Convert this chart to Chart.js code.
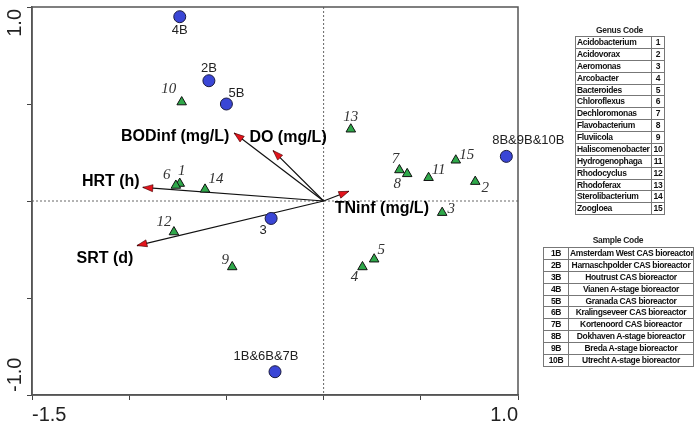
<!DOCTYPE html>
<html>
<head>
<meta charset="utf-8">
<script src="https://cdn.jsdelivr.net/npm/chart.js@4.4.1/dist/chart.umd.min.js"></script>
<style>
  body { margin: 0; background: #fff; }
  #wrap { position: relative; width: 697px; height: 426px; }
  #plot { position: absolute; left: 0; top: 0; }
  .ttl { position: absolute; font: bold 8.5px 'Liberation Sans', sans-serif; letter-spacing: -0.3px; color: #222; text-align: center; }
  table { position: absolute; border-collapse: collapse; table-layout: fixed; font: bold 8.5px 'Liberation Sans', sans-serif; letter-spacing: -0.35px; color: #111; }
  td { border: 1px solid #777; height: 10.87px; line-height: 10.87px; padding: 0 1px; white-space: nowrap; overflow: hidden; box-sizing: border-box; }
  #genus td:nth-child(2) { text-align: center; }
  #sample td { text-align: center; }
</style>
</head>
<body>
<div id="wrap">
  <canvas id="plot" width="697" height="426"></canvas>
  <div class="ttl" style="left:575px; top:25px; width:89px;">Genus Code</div>
  <table id="genus" style="left:575px; top:36px; width:89px;"><colgroup><col style="width:76px"><col style="width:13px"></colgroup><tbody></tbody></table>
  <div class="ttl" style="left:543px; top:235px; width:150px;">Sample Code</div>
  <table id="sample" style="left:543px; top:247px; width:150px;"><colgroup><col style="width:25px"><col style="width:125px"></colgroup><tbody></tbody></table>
</div>
<script>
// muestras (circulos azules)
const sampleLabels = ['4B', '2B', '5B', '3', '8B&9B&10B', '1B&6B&7B'];
const sampleX = [-0.74, -0.59, -0.50, -0.27, 0.94, -0.25];
const sampleY = [0.95, 0.62, 0.50, -0.09, 0.23, -0.88];

// generos (triangulos verdes), codigos 1..15
const genusLabels = ['1', '2', '3', '4', '5', '6', '7', '8', '9', '10', '11', '12', '13', '14', '15'];
const genusX = [-0.74, 0.78, 0.61, 0.20, 0.26, -0.76, 0.39, 0.43, -0.47, -0.73, 0.54, -0.77, 0.14, -0.61, 0.68];
const genusY = [0.09, 0.10, -0.06, -0.34, -0.30, 0.08, 0.16, 0.14, -0.34, 0.51, 0.12, -0.16, 0.37, 0.06, 0.21];

// variables ambientales (flechas)
const envLabels = ['HRT (h)', 'BODinf (mg/L)', 'DO (mg/L)', 'SRT (d)', 'TNinf (mg/L)'];
const envX = [-0.93, -0.46, -0.26, -0.96, 0.13];
const envY = [0.07, 0.35, 0.26, -0.23, 0.05];

// tablas
const genusNames = ['Acidobacterium', 'Acidovorax', 'Aeromonas', 'Arcobacter', 'Bacteroides', 'Chloroflexus',
  'Dechloromonas', 'Flavobacterium', 'Fluviicola', 'Haliscomenobacter', 'Hydrogenophaga', 'Rhodocyclus',
  'Rhodoferax', 'Sterolibacterium', 'Zoogloea'];
const sampleCodes = ['1B', '2B', '3B', '4B', '5B', '6B', '7B', '8B', '9B', '10B'];
const sampleNames = ['Amsterdam West CAS bioreactor', 'Harnaschpolder CAS bioreactor', 'Houtrust CAS bioreactor',
  'Vianen A-stage bioreactor', 'Granada CAS bioreactor', 'Kralingseveer CAS bioreactor', 'Kortenoord CAS bioreactor',
  'Dokhaven A-stage bioreactor', 'Breda A-stage bioreactor', 'Utrecht A-stage bioreactor'];

// ticks
const xTickLabels = ['-1.5', '1.0'];
const yTickLabels = ['-1.0', '1.0'];

// desplazamientos de etiquetas (px)
const sampleOffsets = [[0, 14], [0, -12], [10, -11], [-8, 12], [22, -16], [-9, -15]];
const genusOffsets = [[2, -12], [10, 6], [9, -4], [-8, 10], [7, -9], [-9, -10], [-4, -11], [-10, 10], [-7, -7],
  [-13, -13], [10, -8], [-10, -10], [0, -12], [11, -10], [11, -5]];
const envOffsets = [[-32, -6], [-59, 3], [15, -13], [-32, 13], [33, 17]];

// tablas html
document.querySelector('#genus tbody').innerHTML = genusNames
  .map((n, i) => `<tr><td>${n}</td><td>${genusLabels[i]}</td></tr>`).join('');
document.querySelector('#sample tbody').innerHTML = sampleNames
  .map((n, i) => `<tr><td>${sampleCodes[i]}</td><td>${n}</td></tr>`).join('');

const toPts = (xs, ys) => xs.map((v, i) => ({ x: v, y: ys[i] }));

const arrowSets = envX.map((v, i) => ({
  type: 'line',
  label: envLabels[i],
  data: [{ x: 0, y: 0 }, { x: v, y: envY[i] }],
  borderColor: '#111',
  borderWidth: 1.2,
  pointRadius: 0,
  order: 3
}));

const overlay = {
  id: 'overlay',
  beforeDatasetsDraw(chart) {
    const { ctx, chartArea: a, scales: { x, y } } = chart;
    const x0 = x.getPixelForValue(0), y0 = y.getPixelForValue(0);
    ctx.save();
    ctx.strokeStyle = '#666';
    ctx.lineWidth = 1;
    ctx.setLineDash([2, 2]);
    ctx.beginPath();
    ctx.moveTo(x0, a.top); ctx.lineTo(x0, a.bottom);
    ctx.moveTo(a.left, y0); ctx.lineTo(a.right, y0);
    ctx.stroke();
    ctx.setLineDash([]);
    ctx.strokeStyle = '#555';
    ctx.lineWidth = 1.5;
    ctx.strokeRect(a.left, a.top, a.right - a.left, a.bottom - a.top);
    ctx.restore();
  },
  afterDatasetsDraw(chart) {
    const { ctx, scales: { x, y } } = chart;
    const x0 = x.getPixelForValue(0), y0 = y.getPixelForValue(0);
    ctx.save();
    // puntas de flecha
    envX.forEach((v, i) => {
      const tx = x.getPixelForValue(v), ty = y.getPixelForValue(envY[i]);
      const ang = Math.atan2(ty - y0, tx - x0);
      ctx.save();
      ctx.translate(tx, ty);
      ctx.rotate(ang);
      ctx.beginPath();
      ctx.moveTo(0, 0);
      ctx.lineTo(-10, -3.5);
      ctx.lineTo(-10, 3.5);
      ctx.closePath();
      ctx.fillStyle = '#e3141c';
      ctx.fill();
      ctx.strokeStyle = '#400';
      ctx.lineWidth = 0.6;
      ctx.stroke();
      ctx.restore();
    });
    ctx.textAlign = 'center';
    ctx.textBaseline = 'middle';
    // etiquetas flechas
    ctx.font = 'bold 16px "Liberation Sans", Arial, sans-serif';
    ctx.fillStyle = '#000';
    envLabels.forEach((t, i) => {
      ctx.fillText(t, x.getPixelForValue(envX[i]) + envOffsets[i][0], y.getPixelForValue(envY[i]) + envOffsets[i][1]);
    });
    // etiquetas muestras
    ctx.font = '13px "Liberation Sans", Arial, sans-serif';
    ctx.fillStyle = '#222';
    sampleLabels.forEach((t, i) => {
      ctx.fillText(t, x.getPixelForValue(sampleX[i]) + sampleOffsets[i][0], y.getPixelForValue(sampleY[i]) + sampleOffsets[i][1]);
    });
    // etiquetas generos
    ctx.font = 'italic 15px "Liberation Serif", "Times New Roman", serif';
    ctx.fillStyle = '#333';
    genusLabels.forEach((t, i) => {
      ctx.fillText(t, x.getPixelForValue(genusX[i]) + genusOffsets[i][0], y.getPixelForValue(genusY[i]) + genusOffsets[i][1]);
    });
    ctx.restore();
  },
  afterDraw(chart) {
    const { ctx, chartArea: a } = chart;
    ctx.save();
    ctx.font = '20px "Liberation Sans", Arial, sans-serif';
    ctx.fillStyle = '#222';
    ctx.textBaseline = 'middle';
    ctx.translate(15, 0);
    ctx.rotate(-Math.PI / 2);
    ctx.textAlign = 'left';
    ctx.fillText(yTickLabels[0], -(a.bottom - 3), 0);
    ctx.textAlign = 'right';
    ctx.fillText(yTickLabels[1], -(a.top + 2), 0);
    ctx.restore();
  }
};

new Chart(document.getElementById('plot'), {
  type: 'scatter',
  data: {
    datasets: [
      {
        label: 'Samples',
        data: toPts(sampleX, sampleY),
        pointStyle: 'circle',
        pointRadius: 6,
        backgroundColor: '#3a46d6',
        borderColor: '#1a1a40',
        borderWidth: 1,
        order: 1
      },
      {
        label: 'Genus',
        data: toPts(genusX, genusY),
        pointStyle: 'triangle',
        pointRadius: 5.5,
        backgroundColor: '#2fa84a',
        borderColor: '#111',
        borderWidth: 1,
        order: 1
      },
      ...arrowSets
    ]
  },
  options: {
    responsive: false,
    animation: false,
    layout: { padding: { top: 5, right: 179, left: 0, bottom: 0 } },
    plugins: { legend: { display: false }, tooltip: { enabled: false } },
    scales: {
      x: {
        type: 'linear',
        min: -1.5,
        max: 1.0,
        afterFit: s => { s.height = 31; },
        ticks: {
          stepSize: 0.5,
          align: 'inner',
          padding: 3,
          color: '#222',
          font: { size: 20, family: '"Liberation Sans", Arial, sans-serif' },
          callback: v => v === -1.5 ? xTickLabels[0] : (v === 1 ? xTickLabels[1] : '')
        },
        grid: { drawOnChartArea: false, drawTicks: true, tickLength: 5, tickColor: '#444' },
        border: { color: '#555', width: 1.5 }
      },
      y: {
        type: 'linear',
        min: -1.0,
        max: 1.0,
        afterFit: s => { s.width = 32; },
        ticks: { stepSize: 0.5, display: false },
        grid: { drawOnChartArea: false, drawTicks: true, tickLength: 5, tickColor: '#444' },
        border: { color: '#555', width: 1.5 }
      }
    }
  },
  plugins: [overlay]
});
</script>
</body>
</html>
